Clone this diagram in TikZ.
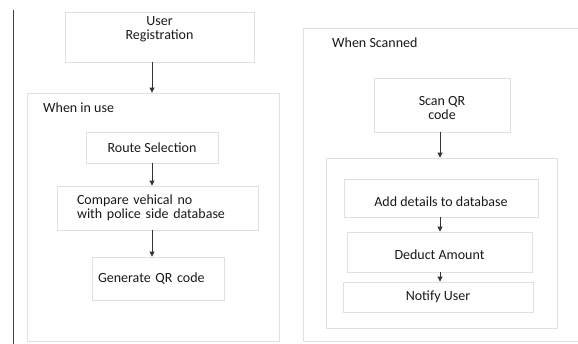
\documentclass[tikz,border=0pt]{standalone}
\usepackage{fontspec}
\setmainfont{Carlito}
\usetikzlibrary{arrows.meta}
\newcommand{\boxcolor}{black!12}
\newcommand{\txtcolor}{black!90}

\begin{document}
\begin{tikzpicture}[x=1pt,y=-1pt,
  blk/.style={draw=\boxcolor, line width=0.9pt, text=\txtcolor, align=center,
              inner sep=0pt, font=\fontsize{14}{14}\selectfont},
  grp/.style={draw=\boxcolor, line width=0.9pt, inner sep=0pt},
  lbl/.style={text=\txtcolor, anchor=west, inner sep=0pt, font=\fontsize{14}{14}\selectfont},
  flow/.style={-{Triangle[width=5pt,length=5pt]}, line width=0.9pt, black!80}]

 \useasboundingbox (0,0) rectangle (578,343);
 \clip (0,0) rectangle (578,343);
 \draw[black!75, line width=0.9pt] (13,10) -- (13,345);

 % left side
 \node[blk, minimum width=189pt, minimum height=50pt, text depth=17pt] (reg) at (159.5,37) {User\\Registration};
 \node[grp, minimum width=252pt, minimum height=248.5pt] (use) at (153,217.25) {};
 \node[lbl] (uselbl) at (43,108) {When in use};
 \node[blk, minimum width=132pt, minimum height=31pt] (route) at (152,147.5) {Route Selection};
 \node[blk, minimum width=201pt, minimum height=44pt, text width=161pt, align=left, inner xsep=20pt] (cmp) at (157.5,208) {Compare vehical no\\with police side database};
 \node[blk, minimum width=128pt, minimum height=43pt, text width=120pt, align=left, inner xsep=6pt] (gen) at (158,278.5) {Generate QR code};

 \draw[flow] (reg.south -| route) -- (use.north -| route);
 \draw[flow] (route.south) -- (cmp.north -| route);
 \draw[flow] (cmp.south -| route) -- (gen.north -| route);

 % right side
 \node[grp, minimum width=300pt, minimum height=313.5pt] (scn) at (453,184.75) {};
 \node[lbl] (scnlbl) at (332,43) {When Scanned};
 \node[blk, minimum width=136pt, minimum height=54pt, text height=30pt] (scan) at (442,105) {Scan QR\\code};
 \node[grp, minimum width=231pt, minimum height=170pt] (inner) at (441.5,243) {};
 \node[blk, minimum width=194pt, minimum height=38pt, text height=18pt] (add) at (441,198) {Add details to database};
 \node[blk, minimum width=185pt, minimum height=40pt, text height=15pt] (ded) at (439.5,252) {Deduct Amount};
 \node[blk, minimum width=190pt, minimum height=30pt] (ntf) at (438,297) {Notify User};

 \draw[flow] (scan.south -| 440,0) -- (inner.north -| 440,0);
 \draw[flow] (add.south -| 440,0) -- (ded.north -| 440,0);
 \draw[flow] (ded.south -| 440,0) -- (ntf.north -| 440,0);

\end{tikzpicture}
\end{document}
